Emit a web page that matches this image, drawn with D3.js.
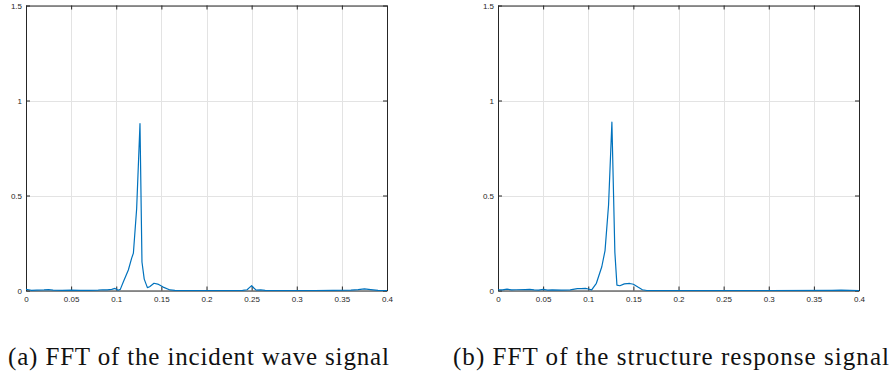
<!DOCTYPE html>
<html>
<head>
<meta charset="utf-8">
<script src="https://cdn.jsdelivr.net/npm/d3@7"></script>
<style>
  html, body { margin: 0; padding: 0; background: #fff; }
  svg { display: block; }
  .tick text { font-family: "Liberation Sans", Arial, sans-serif; font-size: 8px; fill: #262626; }
  .caption { font-family: "Liberation Serif", "Times New Roman", serif; font-size: 25px; fill: #111; }
</style>
</head>
<body>
<svg id="chart" width="890" height="378"></svg>
<script>
// FFT amplitude spectra (frequency vs. amplitude)
const incidentFreq = [0, 0.003, 0.006, 0.012, 0.02, 0.025, 0.03, 0.04, 0.05, 0.06, 0.07, 0.08, 0.085, 0.09, 0.095, 0.0986, 0.102, 0.1045, 0.1079, 0.1134, 0.117, 0.119, 0.1226, 0.1263, 0.1285, 0.131, 0.1345, 0.137, 0.1418, 0.146, 0.152, 0.1596, 0.165, 0.18, 0.2, 0.22, 0.24, 0.245, 0.2475, 0.25, 0.2525, 0.255, 0.26, 0.265, 0.28, 0.3, 0.32, 0.34, 0.36, 0.368, 0.375, 0.382, 0.39, 0.4];
const incidentAmp  = [0.006, 0.004, 0.001, 0.002, 0.003, 0.005, 0.002, 0.001, 0.002, 0.001, 0.001, 0.002, 0.004, 0.003, 0.006, 0.011, 0.001, 0.006, 0.046, 0.108, 0.169, 0.197, 0.43, 0.878, 0.15, 0.06, 0.015, 0.02, 0.038, 0.034, 0.018, 0.003, 0.001, 0, 0, 0, 0.001, 0.004, 0.015, 0.025, 0.013, 0.002, 0.003, 0.001, 0, 0, 0, 0.001, 0.002, 0.005, 0.009, 0.005, 0.001, 0];

const responseFreq = [0, 0.005, 0.01, 0.015, 0.02, 0.03, 0.035, 0.04, 0.045, 0.05, 0.055, 0.06, 0.07, 0.08, 0.088, 0.092, 0.097, 0.1, 0.1038, 0.109, 0.115, 0.1186, 0.1225, 0.1262, 0.1295, 0.1318, 0.135, 0.14, 0.146, 0.15, 0.155, 0.16, 0.165, 0.2, 0.3, 0.37, 0.38, 0.39, 0.4];
const responseAmp  = [0.004, 0.003, 0.007, 0.003, 0.004, 0.005, 0.006, 0.003, 0.002, 0.006, 0.002, 0.003, 0.002, 0.003, 0.01, 0.01, 0.011, 0.008, 0.003, 0.038, 0.125, 0.21, 0.45, 0.886, 0.2, 0.028, 0.025, 0.035, 0.037, 0.033, 0.018, 0.004, 0, 0, 0, 0.001, 0.002, 0.001, 0];

const xTicks = [0, 0.05, 0.1, 0.15, 0.2, 0.25, 0.3, 0.35, 0.4];
const xTickLabels = ["0", "0.05", "0.1", "0.15", "0.2", "0.25", "0.3", "0.35", "0.4"];
const yTicks = [0, 0.5, 1, 1.5];
const yTickLabels = ["0", "0.5", "1", "1.5"];
const captions = ["(a) FFT of the incident wave signal", "(b) FFT of the structure response signal"];

const svg = d3.select("#chart");

const panels = [
  { left: 26, right: 387, freq: incidentFreq, amp: incidentAmp, caption: captions[0], capX: 8, capW: 381 },
  { left: 498, right: 859, freq: responseFreq, amp: responseAmp, caption: captions[1], capX: 453, capW: 436 }
];
const plotTop = 5.5, plotBottom = 290.5;
const axisColor = "#262626";

panels.forEach(p => {
  const x = d3.scaleLinear().domain([0, 0.4]).range([p.left, p.right]);
  const y = d3.scaleLinear().domain([0, 1.5]).range([plotBottom, plotTop]);
  const g = svg.append("g");

  // grid
  g.append("g").selectAll("line").data(xTicks).join("line")
    .attr("x1", d => Math.round(x(d)) + 0.5).attr("x2", d => Math.round(x(d)) + 0.5)
    .attr("y1", plotTop).attr("y2", plotBottom)
    .attr("stroke", "#e3e3e3").attr("stroke-width", 1);
  g.append("g").selectAll("line").data(yTicks).join("line")
    .attr("x1", p.left).attr("x2", p.right)
    .attr("y1", d => Math.round(y(d)) + 0.5).attr("y2", d => Math.round(y(d)) + 0.5)
    .attr("stroke", "#e3e3e3").attr("stroke-width", 1);

  // axes with inward ticks on all four sides
  const fmtX = d => xTickLabels[xTicks.indexOf(d)];
  const fmtY = d => yTickLabels[yTicks.indexOf(d)];
  const styleAxis = sel => {
    sel.select(".domain").attr("stroke", axisColor).attr("stroke-width", 1);
    sel.selectAll(".tick line").attr("stroke", axisColor).attr("stroke-width", 1);
  };
  g.append("g").attr("transform", `translate(0,${plotBottom})`)
    .call(d3.axisBottom(x).tickValues(xTicks).tickFormat(fmtX).tickSizeInner(-4).tickSizeOuter(0).tickPadding(6))
    .call(styleAxis);
  g.append("g").attr("transform", `translate(0,${plotTop})`)
    .call(d3.axisTop(x).tickValues(xTicks).tickFormat("").tickSizeInner(-4).tickSizeOuter(0))
    .call(styleAxis);
  g.append("g").attr("transform", `translate(${p.left},0)`)
    .call(d3.axisLeft(y).tickValues(yTicks).tickFormat(fmtY).tickSizeInner(-4).tickSizeOuter(0).tickPadding(4))
    .call(styleAxis);
  g.append("g").attr("transform", `translate(${p.right},0)`)
    .call(d3.axisRight(y).tickValues(yTicks).tickFormat("").tickSizeInner(-4).tickSizeOuter(0))
    .call(styleAxis);
  g.selectAll(".tick text").attr("fill", axisColor);

  // spectrum line
  const pts = p.freq.map((f, i) => [f, p.amp[i]]);
  g.append("path").datum(pts)
    .attr("fill", "none").attr("stroke", "#0072BD").attr("stroke-width", 1.2)
    .attr("stroke-linejoin", "round")
    .attr("d", d3.line().x(d => x(d[0])).y(d => y(d[1])));

  // caption
  svg.append("text").attr("class", "caption")
    .attr("x", p.capX).attr("y", 365)
    .attr("textLength", p.capW).attr("lengthAdjust", "spacing")
    .text(p.caption);
});
</script>
</body>
</html>
